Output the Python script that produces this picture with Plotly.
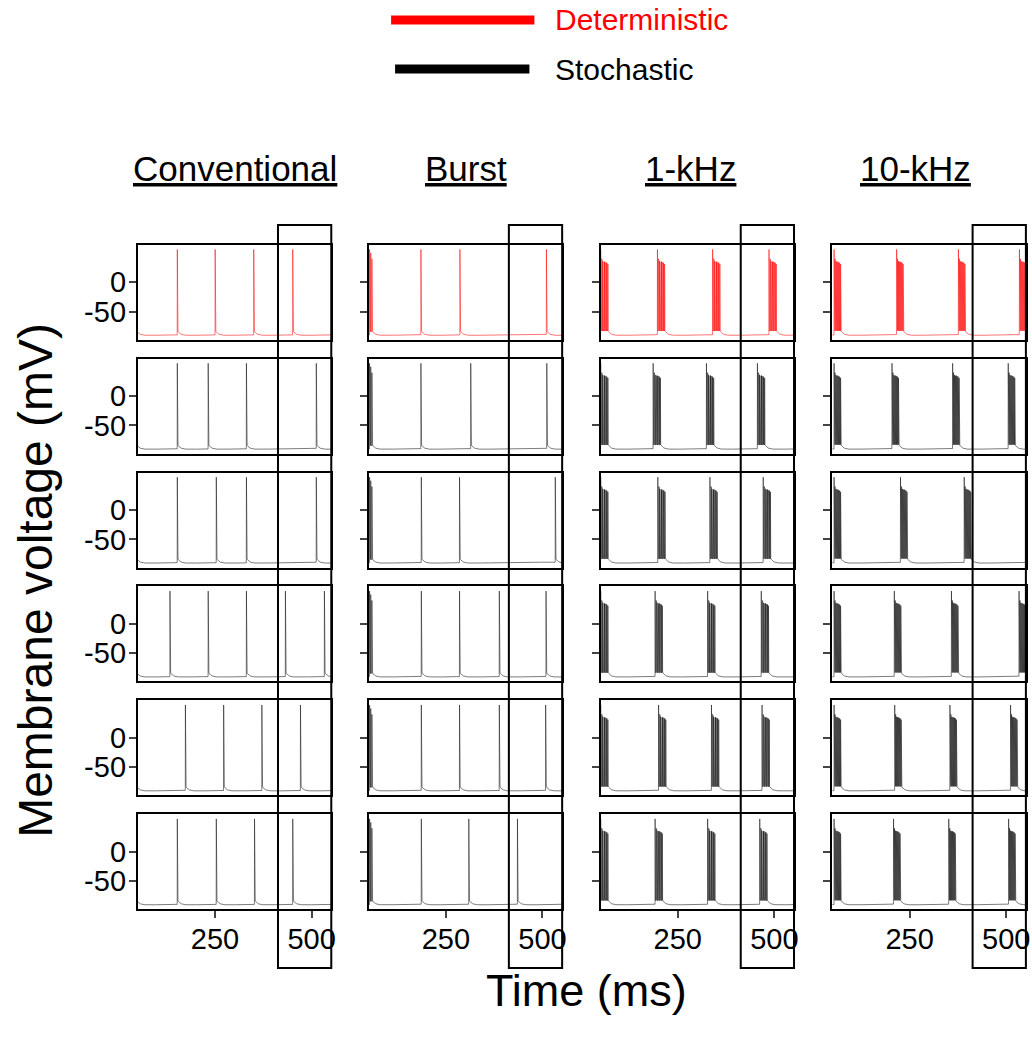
import plotly.graph_objects as go

W, H = 1032, 1038

# ---------------- data ----------------
col_titles = ["Conventional", "Burst", "1-kHz", "10-kHz"]
row_labels = ["Deterministic", "Stochastic 1", "Stochastic 2", "Stochastic 3", "Stochastic 4", "Stochastic 5"]

# spike times (ms) for the conventional stimulation, one list per row
conventional_spikes = [
    [46, 152, 250, 350, 451],
    [46, 152, 232, 331, 512],
    [46, 152, 253, 331, 512],
    [46, 133, 232, 331, 432, 533],
    [46, 173, 272, 371, 471],
    [46, 152, 253, 352, 451],
]
# burst stimulation: initial spike cluster at onset, then single spikes
burst_onset_spikes = [52, 55, 58]
burst_onset_peaks = [56, 50, 40]
burst_spikes = [
    [185, 286, 510],
    [185, 314, 511],
    [186, 285, 533],
    [186, 285, 388, 509],
    [186, 285, 388, 508],
    [186, 309, 435],
]
# kHz stimulation: onset times (ms) of high-frequency spike bursts
khz1_bursts = [
    [50, 197, 340, 486],
    [50, 186, 324, 456],
    [50, 198, 333, 471],
    [50, 191, 327, 466],
    [50, 200, 337, 468],
    [50, 191, 327, 462],
]
khz10_bursts = [
    [54, 216, 376, 534],
    [54, 204, 361, 505],
    [54, 226, 391],
    [54, 210, 358, 533],
    [54, 211, 354, 511],
    [54, 208, 351, 506],
]
burst_duration = {"1-kHz": 20.0, "10-kHz": 18.0}
burst_peaks = [56, 46, 40, 37, 36, 36, 35, 35, 35, 34, 34, 33, 33, 32, 31]

t_range = [50, 550]
v_range = [-98, 64]
v_ticks = [0, -50]
t_ticks = [250, 500]
window_ms = [413, 551]   # highlighted window

# ---------------- waveform construction from event lists ----------------
V_REST, V_AHP, TAU = -91.0, 9.5, 7.0


def baseline(t, last):
    if last is None:
        return V_REST + 1.0
    dt = t - last
    return V_REST + V_AHP * (2.718281828 ** (-dt / TAU)) + min(0.012 * dt, 2.0)


def build(spikes):
    """spikes: list of (time, peak) -> vertices of membrane voltage"""
    spikes = sorted(spikes)
    ts, vs = [], []
    cur, last = 40.0, None
    for s, pk in spikes:
        t = cur
        while t < s - 0.3:
            ts.append(t)
            vs.append(baseline(t, last))
            t += 1.0
        ts.append(s - 0.05)
        vs.append(baseline(s - 0.05, last))
        ts.append(s + 0.25)
        vs.append(pk)
        last = s
        cur = s + 0.6
        ts.append(cur)
        vs.append(baseline(cur, last))
        cur += 0.4
    t = cur
    while t <= 556:
        ts.append(t)
        vs.append(baseline(t, last))
        t += 1.0
    return ts, vs


def khz_events(onsets, dur):
    ev = []
    n = len(burst_peaks)
    for o in onsets:
        for k in range(n):
            ev.append((o + k * dur / n, burst_peaks[k]))
    return ev


panels = []  # [row][col] -> event list
for r in range(6):
    row = []
    row.append([(s, 56) for s in conventional_spikes[r]])
    row.append(list(zip(burst_onset_spikes, burst_onset_peaks)) + [(s, 56) for s in burst_spikes[r]])
    row.append(khz_events(khz1_bursts[r], burst_duration["1-kHz"]))
    row.append(khz_events(khz10_bursts[r], burst_duration["10-kHz"]))
    panels.append(row)

# ---------------- layout geometry ----------------
col_left_px = [138.5, 370.5, 603.5, 836.5]
col_w = 194.0
row_top_px = [244.7 + 113.9 * r for r in range(6)]
row_h = 95.0
FONT = "Arial, Liberation Sans, sans-serif"
TICK_SIZE = 29

fig = go.Figure()
layout = dict(
    width=W, height=H, margin=dict(l=0, r=0, t=0, b=0),
    paper_bgcolor="white", plot_bgcolor="white", showlegend=False,
    font=dict(family=FONT, color="black"),
)

for r in range(6):
    for c in range(4):
        idx = r * 4 + c + 1
        xa = "xaxis" if idx == 1 else f"xaxis{idx}"
        ya = "yaxis" if idx == 1 else f"yaxis{idx}"
        xr = "x" if idx == 1 else f"x{idx}"
        yr = "y" if idx == 1 else f"y{idx}"
        ts, vs = build(panels[r][c])
        color = "rgb(255,0,0)" if r == 0 else "rgb(15,15,15)"
        fig.add_trace(go.Scatter(
            x=ts, y=vs, mode="lines", xaxis=xr, yaxis=yr,
            name=f"{col_titles[c]} {row_labels[r]}",
            line=dict(color=color, width=0.55), hoverinfo="skip",
        ))
        x0 = col_left_px[c] / W
        x1 = (col_left_px[c] + col_w) / W
        y1 = 1 - row_top_px[r] / H
        y0 = 1 - (row_top_px[r] + row_h) / H
        layout[xa] = dict(
            domain=[x0, x1], range=t_range, anchor=yr,
            showline=True, mirror=True, linecolor="black", linewidth=2,
            showgrid=False, zeroline=False,
            tickvals=t_ticks if r == 5 else [],
            ticktext=[str(v) for v in t_ticks] if r == 5 else [],
            ticks="outside" if r == 5 else "", ticklen=7, tickwidth=1.5,
            ticklabelstandoff=-4,
            showticklabels=(r == 5), tickfont=dict(size=TICK_SIZE, family=FONT, color="black"),
        )
        layout[ya] = dict(
            domain=[y0, y1], range=v_range, anchor=xr,
            showline=True, mirror=True, linecolor="black", linewidth=2,
            showgrid=False, zeroline=False,
            tickvals=v_ticks, ticktext=[str(v) for v in v_ticks],
            ticks="outside", ticklen=7, tickwidth=1.5,
            ticklabelstandoff=-3,
            showticklabels=(c == 0), tickfont=dict(size=TICK_SIZE, family=FONT, color="black"),
        )

fig.update_layout(**layout)

# highlighted window boxes
shapes = []
for c in range(4):
    px_per_ms = col_w / (t_range[1] - t_range[0])
    xa0 = col_left_px[c] + (window_ms[0] - t_range[0]) * px_per_ms
    xa1 = col_left_px[c] + (window_ms[1] - t_range[0]) * px_per_ms
    shapes.append(dict(type="rect", xref="paper", yref="paper",
                       x0=xa0 / W, x1=xa1 / W, y0=1 - 968 / H, y1=1 - 225 / H,
                       line=dict(color="black", width=2), fillcolor="rgba(0,0,0,0)"))

# legend lines
shapes.append(dict(type="line", xref="paper", yref="paper",
                   x0=393 / W, x1=537 / W, y0=1 - 20 / H, y1=1 - 20 / H,
                   line=dict(color="#ff0000", width=9)))
shapes.append(dict(type="line", xref="paper", yref="paper",
                   x0=397 / W, x1=532 / W, y0=1 - 69 / H, y1=1 - 69 / H,
                   line=dict(color="black", width=9)))
fig.update_layout(shapes=shapes)

annotations = []
title_cx = [236, 468, 694, 920]
for c in range(4):
    annotations.append(dict(text=f"<u>{col_titles[c]}</u>", x=title_cx[c] / W, y=1 - 168 / H,
                            xref="paper", yref="paper", showarrow=False,
                            xanchor="center", yanchor="middle",
                            font=dict(size=35, family=FONT, color="black")))
annotations.append(dict(text="Deterministic", x=556 / W, y=1 - 20 / H, xref="paper", yref="paper",
                        showarrow=False, xanchor="left", yanchor="middle",
                        font=dict(size=30, family=FONT, color="#ff0000")))
annotations.append(dict(text="Stochastic", x=556 / W, y=1 - 69 / H, xref="paper", yref="paper",
                        showarrow=False, xanchor="left", yanchor="middle",
                        font=dict(size=30, family=FONT, color="black")))
annotations.append(dict(text="Membrane voltage (mV)", x=35 / W, y=1 - 580 / H, xref="paper", yref="paper",
                        showarrow=False, xanchor="center", yanchor="middle", textangle=-90,
                        font=dict(size=48, family=FONT, color="black")))
annotations.append(dict(text="Time (ms)", x=589 / W, y=1 - 990 / H, xref="paper", yref="paper",
                        showarrow=False, xanchor="center", yanchor="middle",
                        font=dict(size=45, family=FONT, color="black")))
fig.update_layout(annotations=annotations)

fig.write_html("out.html")
